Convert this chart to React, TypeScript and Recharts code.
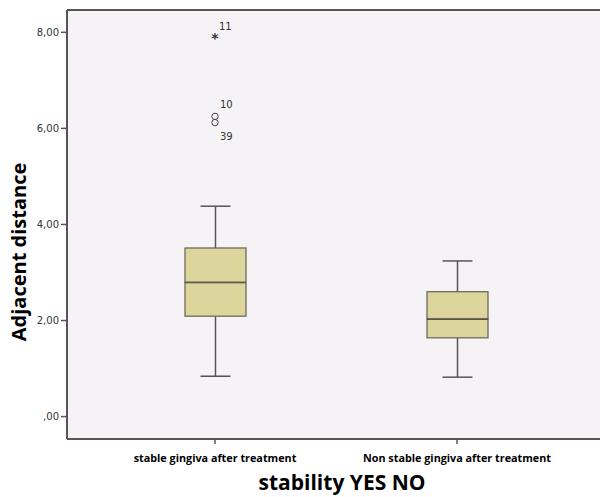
import React from 'react';
import { ComposedChart, Bar, Line, XAxis, YAxis, CartesianGrid, ReferenceLine } from 'recharts';

// Box plot values
const categories = ['stable gingiva after treatment', 'Non stable gingiva after treatment'];
const whiskerLow = [0.84, 0.82];
const quartile1 = [2.09, 1.64];
const medians = [2.8, 2.04];
const quartile3 = [3.51, 2.6];
const whiskerHigh = [4.38, 3.24];

// outliers (circles) and extremes (stars), with case numbers
const outliers = [
  { cat: 0, value: 6.25, id: '10' },
  { cat: 0, value: 6.12, id: '39' },
];
const extremes = [{ cat: 0, value: 7.93, id: '11' }];

const yTicks = [0, 2, 4, 6, 8];
const yMin = -0.467;
const yMax = 8.465;

const data = categories.map((name, i) => {
  const row: any = {
    name,
    base: whiskerLow[i],
    lowW: quartile1[i] - whiskerLow[i],
    lowBox: medians[i] - quartile1[i],
    highBox: quartile3[i] - medians[i],
    highW: whiskerHigh[i] - quartile3[i],
  };
  outliers.forEach((o, k) => (row[`o${k}`] = o.cat === i ? o.value : null));
  extremes.forEach((e, k) => (row[`e${k}`] = e.cat === i ? e.value : null));
  return row;
});

const LINE = '#585454';
const BOX_FILL = '#dcd59c';
const BOX_STROKE = '#6f6a5e';
const CAP = 15;

const LowWhisker = (p: any) => {
  const cx = p.x + p.width / 2;
  return (
    <g>
      <line x1={cx} y1={p.y} x2={cx} y2={p.y + p.height} stroke={LINE} strokeWidth={1.5} />
      <line x1={cx - CAP} y1={p.y + p.height} x2={cx + CAP} y2={p.y + p.height} stroke={LINE} strokeWidth={1.5} />
    </g>
  );
};

const HighWhisker = (p: any) => {
  const cx = p.x + p.width / 2;
  return (
    <g>
      <line x1={cx} y1={p.y} x2={cx} y2={p.y + p.height} stroke={LINE} strokeWidth={1.5} />
      <line x1={cx - CAP} y1={p.y} x2={cx + CAP} y2={p.y} stroke={LINE} strokeWidth={1.5} />
    </g>
  );
};

const LowBox = (p: any) => (
  <g>
    <rect x={p.x} y={p.y} width={p.width} height={p.height} fill={BOX_FILL} stroke={BOX_STROKE} strokeWidth={1.3} />
    <line x1={p.x} y1={p.y} x2={p.x + p.width} y2={p.y} stroke="#2b2820" strokeWidth={2.5} />
  </g>
);

const HighBox = (p: any) => (
  <rect x={p.x} y={p.y} width={p.width} height={p.height} fill={BOX_FILL} stroke={BOX_STROKE} strokeWidth={1.3} />
);

const labelStyle = { fontFamily: 'DejaVu Sans', fontSize: 10, fill: '#333' };

const circleDot = (id: string, above: boolean) => (p: any) => {
  if (p.value == null || p.cy == null) return <g key={`c-${id}-${p.index}`} />;
  return (
    <g key={`c-${id}-${p.index}`}>
      <circle cx={p.cx} cy={p.cy} r={3.2} fill="none" stroke="#444" strokeWidth={1} />
      <text x={p.cx + 5} y={above ? p.cy - 8 : p.cy + 17} style={labelStyle}>{id}</text>
    </g>
  );
};

const starDot = (id: string) => (p: any) => {
  if (p.value == null || p.cy == null) return <g key={`s-${id}-${p.index}`} />;
  return (
    <g key={`s-${id}-${p.index}`}>
      <text x={p.cx} y={p.cy + 7} textAnchor="middle" style={{ fontFamily: 'DejaVu Sans', fontWeight: 700, fontSize: 14, fill: '#333' }}>*</text>
      <text x={p.cx + 4} y={p.cy - 6} style={labelStyle}>{id}</text>
    </g>
  );
};

const fmt = (v: number) => (v === 0 ? ',00' : v.toFixed(2).replace('.', ','));

const YTitle = () => (
  <text
    x={18}
    y={252}
    transform="rotate(-90, 18, 252)"
    textAnchor="middle"
    dominantBaseline="central"
    style={{ fontFamily: 'Open Sans', fontWeight: 700, fontSize: 20, fill: '#000' }}
  >
    Adjacent distance
  </text>
);

const XTitle = () => (
  <text
    x={342}
    y={482}
    textAnchor="middle"
    dominantBaseline="central"
    style={{ fontFamily: 'Open Sans', fontWeight: 700, fontSize: 21, fill: '#000' }}
  >
    stability YES NO
  </text>
);

export default function App() {
  return (
    <div style={{ position: 'absolute', left: 0, top: 0, width: 600, height: 497, overflow: 'hidden', background: '#fff' }}>
      <ComposedChart width={610} height={497} data={data} margin={{ top: 10, right: 5, bottom: 0, left: 0 }}>
        <CartesianGrid horizontal={false} vertical={false} fill="#f5f3f5" stroke="none" />
        <XAxis
          dataKey="name"
          type="category"
          height={58}
          padding={{ left: 27, right: 27 }}
          axisLine={{ stroke: LINE, strokeWidth: 2 }}
          tickLine={{ stroke: LINE, strokeWidth: 1.5 }}
          tickSize={5}
          tickMargin={10}
          tick={{ fontFamily: 'Open Sans', fontWeight: 700, fontSize: 10.8, fill: '#000' }}
          label={<XTitle />}
        />
        <YAxis
          type="number"
          width={67}
          domain={[yMin, yMax]}
          ticks={yTicks}
          allowDataOverflow
          tickFormatter={fmt}
          axisLine={{ stroke: LINE, strokeWidth: 2 }}
          tickLine={{ stroke: LINE, strokeWidth: 1.5 }}
          tickSize={6}
          tickMargin={2}
          tick={{ fontFamily: 'DejaVu Sans', fontSize: 10, fill: '#333' }}
          label={<YTitle />}
        />
        <ReferenceLine y={yMax} stroke={LINE} strokeWidth={2} />
        <Bar dataKey="base" stackId="box" fill="transparent" barSize={61} isAnimationActive={false} />
        <Bar dataKey="lowW" stackId="box" barSize={61} shape={LowWhisker} isAnimationActive={false} />
        <Bar dataKey="lowBox" stackId="box" barSize={61} shape={LowBox} isAnimationActive={false} />
        <Bar dataKey="highBox" stackId="box" barSize={61} shape={HighBox} isAnimationActive={false} />
        <Bar dataKey="highW" stackId="box" barSize={61} shape={HighWhisker} isAnimationActive={false} />
        {outliers.map((o, k) => (
          <Line
            key={`o${k}`}
            dataKey={`o${k}`}
            stroke="none"
            activeDot={false}
            dot={circleDot(o.id, outliers.every((q) => q.value <= o.value))}
            isAnimationActive={false}
          />
        ))}
        {extremes.map((e, k) => (
          <Line
            key={`e${k}`}
            dataKey={`e${k}`}
            stroke="none"
            activeDot={false}
            dot={starDot(e.id)}
            isAnimationActive={false}
          />
        ))}
      </ComposedChart>
    </div>
  );
}
